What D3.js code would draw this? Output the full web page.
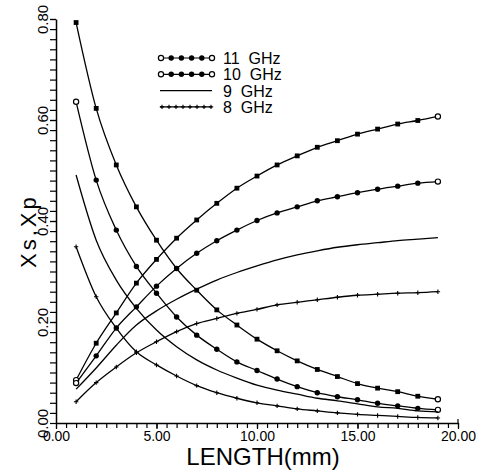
<!DOCTYPE html>
<html>
<head>
<meta charset="utf-8">
<script src="https://cdn.jsdelivr.net/npm/d3@7/dist/d3.min.js"></script>
<style>
  body { margin: 0; background: #fff; }
  svg { display: block; font-family: "Liberation Sans", Arial, sans-serif; }
</style>
</head>
<body>
<div id="chart"></div>
<script>
// Set up the SVG container
const width = 479;
const height = 471;
const margin = { top: 19, right: 21, bottom: 48, left: 56 };
const chartWidth = width - margin.left - margin.right;
const chartHeight = height - margin.top - margin.bottom;

// Data: length (mm) 1..19
const lengths = [1, 2, 3, 4, 5, 6, 7, 8, 9, 10, 11, 12, 13, 14, 15, 16, 17, 18, 19];

// decreasing family (Xs)
const xs11 = [0.793, 0.623, 0.511, 0.428, 0.362, 0.306, 0.263, 0.224, 0.194, 0.166, 0.143, 0.123, 0.106, 0.092, 0.078, 0.069, 0.062, 0.053, 0.047];
const xs10 = [0.636, 0.481, 0.382, 0.310, 0.257, 0.210, 0.174, 0.146, 0.121, 0.104, 0.087, 0.072, 0.060, 0.052, 0.046, 0.039, 0.034, 0.029, 0.026];
const xs9  = [0.491, 0.362, 0.283, 0.227, 0.184, 0.151, 0.125, 0.105, 0.089, 0.075, 0.065, 0.057, 0.049, 0.044, 0.038, 0.032, 0.029, 0.024, 0.022];
const xs8  = [0.349, 0.250, 0.188, 0.141, 0.115, 0.093, 0.074, 0.060, 0.049, 0.040, 0.034, 0.028, 0.024, 0.020, 0.017, 0.015, 0.013, 0.011, 0.010];

// increasing family (Xp)
const xp11 = [0.085, 0.158, 0.218, 0.277, 0.324, 0.366, 0.402, 0.435, 0.465, 0.489, 0.511, 0.529, 0.546, 0.559, 0.572, 0.582, 0.592, 0.599, 0.607];
const xp10 = [0.079, 0.133, 0.188, 0.230, 0.271, 0.306, 0.336, 0.361, 0.382, 0.401, 0.416, 0.428, 0.440, 0.448, 0.456, 0.463, 0.469, 0.475, 0.478];
const xp9  = [0.067, 0.109, 0.154, 0.194, 0.222, 0.245, 0.265, 0.283, 0.298, 0.311, 0.323, 0.333, 0.341, 0.348, 0.353, 0.357, 0.361, 0.364, 0.367];
const xp8  = [0.042, 0.080, 0.111, 0.139, 0.161, 0.181, 0.197, 0.207, 0.217, 0.225, 0.234, 0.239, 0.244, 0.249, 0.253, 0.255, 0.257, 0.258, 0.260];

const seriesNames = ["11  GHz", "10  GHz", "9  GHz", "8  GHz"];
const xTickValues = [0, 5, 10, 15, 20];
const yTickValues = [0, 0.2, 0.4, 0.6, 0.8];

const series = [
    { name: seriesNames[0], mark: "square", curves: [xs11, xp11] },
    { name: seriesNames[1], mark: "circle", curves: [xs10, xp10] },
    { name: seriesNames[2], mark: "none",   curves: [xs9, xp9] },
    { name: seriesNames[3], mark: "plus",   curves: [xs8, xp8] }
];

const svg = d3.select("#chart")
    .append("svg")
    .attr("width", width)
    .attr("height", height);

svg.append("rect").attr("width", width).attr("height", height).attr("fill", "#fff");

const chart = svg.append("g")
    .attr("transform", `translate(${margin.left}, ${margin.top})`);

// Set up scales
const xScale = d3.scaleLinear().domain([0, 20]).range([0, chartWidth]);
const yScale = d3.scaleLinear().domain([0, 0.8]).range([chartHeight, 0]);

// Minor ticks
chart.append("g")
    .attr("transform", `translate(0, ${chartHeight})`)
    .call(d3.axisBottom(xScale).tickValues(d3.range(0, 20.01, 0.5)).tickSize(5).tickFormat(""))
    .call(g => g.select(".domain").remove());

chart.append("g")
    .call(d3.axisLeft(yScale).tickValues(d3.range(0.02, 0.801, 0.02)).tickSize(6).tickFormat(""))
    .call(g => g.select(".domain").remove());

// Major axes
const xAxis = chart.append("g")
    .attr("transform", `translate(0, ${chartHeight})`)
    .call(d3.axisBottom(xScale).tickValues(xTickValues).tickSize(6).tickSizeOuter(0).tickFormat(d3.format(".2f")));
xAxis.selectAll("text")
    .attr("y", 8)
    .attr("dy", "0.71em")
    .style("font-size", "14px")
    .style("fill", "#000");

const yAxis = chart.append("g")
    .call(d3.axisLeft(yScale).tickValues(yTickValues).tickSize(6).tickSizeOuter(0).tickFormat(d3.format(".2f")));
yAxis.selectAll("text")
    .attr("transform", "rotate(-90)")
    .attr("x", 0)
    .attr("y", -8)
    .attr("dy", 0)
    .attr("text-anchor", "middle")
    .style("font-size", "15px")
    .style("fill", "#000");

chart.selectAll(".domain").attr("stroke-width", 1.5);
chart.selectAll(".tick line").attr("stroke-width", 1.2);

// short upward tick at the right end
chart.append("line")
    .attr("x1", xScale(20)).attr("x2", xScale(20))
    .attr("y1", chartHeight - 4).attr("y2", chartHeight)
    .attr("stroke", "#000").attr("stroke-width", 1.2);

// Lines
const line = d3.line()
    .x((d, i) => xScale(lengths[i]))
    .y(d => yScale(d))
    .curve(d3.curveMonotoneX);

function drawMark(g, type, x, y, open) {
    if (type === "none") return;
    if (open) {
        g.append("circle").attr("cx", x).attr("cy", y).attr("r", 2.6)
            .attr("fill", "#fff").attr("stroke", "#000").attr("stroke-width", 1.2);
    } else if (type === "square") {
        g.append("rect").attr("x", x - 2.4).attr("y", y - 2.4).attr("width", 4.8).attr("height", 4.8)
            .attr("fill", "#000");
    } else if (type === "circle") {
        g.append("circle").attr("cx", x).attr("cy", y).attr("r", 2.7).attr("fill", "#000");
    } else if (type === "plus") {
        g.append("path")
            .attr("d", `M${x - 2.2},${y}H${x + 2.2}M${x},${y - 2.2}V${y + 2.2}`)
            .attr("stroke", "#000").attr("stroke-width", 1.1);
    }
}

series.forEach(s => {
    s.curves.forEach((vals, ci) => {
        chart.append("path")
            .datum(vals)
            .attr("fill", "none")
            .attr("stroke", "#000")
            .attr("stroke-width", 1.3)
            .attr("d", line);
        const mg = chart.append("g");
        vals.forEach((v, i) => {
            const open = (s.mark === "square" || s.mark === "circle") &&
                (i === vals.length - 1 || (i === 0 && (ci === 1 || s.mark === "circle")));
            drawMark(mg, s.mark, xScale(lengths[i]), yScale(v), open);
        });
    });
});

// Axis labels
svg.append("text")
    .attr("x", margin.left + xScale(10.3))
    .attr("y", 465)
    .attr("text-anchor", "middle")
    .style("font-size", "24px")
    .text("LENGTH(mm)");

svg.append("text")
    .attr("transform", `translate(36, ${margin.top + yScale(0.38)}) rotate(-90)`)
    .attr("text-anchor", "middle")
    .style("font-size", "22px")
    .style("letter-spacing", "3px")
    .text("Xs,Xp");

// Legend
const legend = svg.append("g");
seriesNames.forEach((name, i) => {
    const y = 58 + i * 16.3;
    const s = series[i];
    legend.append("line")
        .attr("x1", 160).attr("x2", 212)
        .attr("y1", y).attr("y2", y)
        .attr("stroke", "#000").attr("stroke-width", 1.2);
    if (s.mark === "plus") {
        d3.range(8).forEach(k => drawMark(legend, "plus", 162 + k * 7, y, false));
    } else if (s.mark !== "none") {
        d3.range(6).forEach(k => drawMark(legend, "circle", 161 + k * 10.2, y, k === 0 || k === 5));
    }
    legend.append("text")
        .attr("x", 223)
        .attr("y", y + 6)
        .style("font-size", "16px")
        .style("white-space", "pre")
        .text(name);
});
</script>
</body>
</html>
